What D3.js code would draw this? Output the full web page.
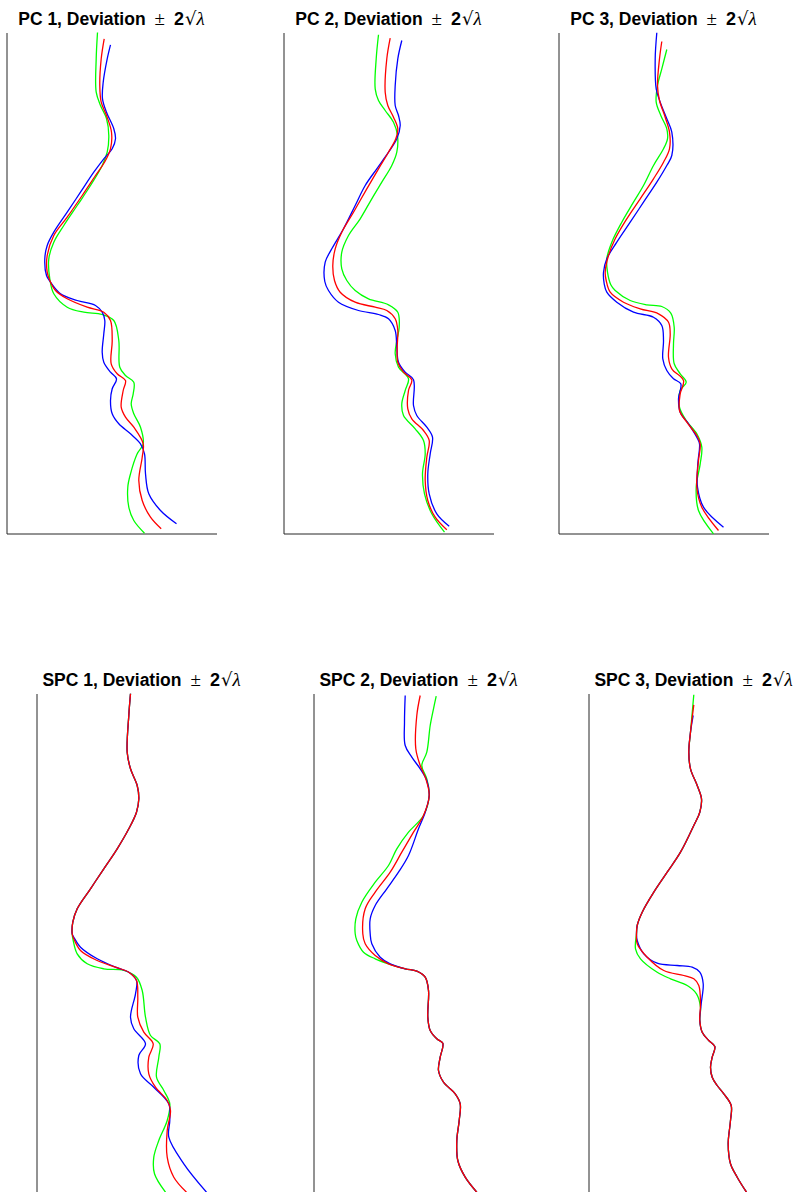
<!DOCTYPE html>
<html>
<head>
<meta charset="utf-8">
<script src="https://cdn.jsdelivr.net/npm/d3@7"></script>
<style>
  html, body { margin: 0; padding: 0; background: #fff; }
  svg { display: block; }
</style>
</head>
<body>
<svg id="chart" width="799" height="1192"></svg>
<script>
// Shape modes: mean shape (red), mean + 2√λ (green), mean − 2√λ (blue).
// Each point is [horizontal offset, position along the shape].

const panelTitles = ["PC 1", "PC 2", "PC 3", "SPC 1", "SPC 2", "SPC 3"];

// ---- PC 1 ----
const pc1Green = [[91,0],[89.7,26.3],[89.7,59.7],[94,73],[100,86],[102.3,103],[100.7,119.7],[95.7,133],[84,153],[70.7,173],[57.3,193],[47.3,209.7],[42.3,226.3],[43.3,246.3],[47.3,261.3],[60.7,274.7],[77.3,279.7],[95.7,282],[107.3,288],[112.3,308],[113.3,334.7],[119,343],[127.3,349.7],[126.7,361.3],[124.7,371.3],[127.3,381.3],[134,394.7],[136.7,411.3],[130.7,421.3],[124,441.3],[121.3,454.7],[122.3,474.7],[127.3,488],[138,500.7]];
const pc1Red = [[97.7,6.3],[94.7,26.3],[93.3,53],[94.7,69.7],[100,83],[105,99.7],[104,116.3],[98,129.7],[89,143],[75.7,163],[60.7,184.7],[47.3,203],[40.7,223],[40.7,239.7],[43.3,248],[49,258],[60.7,266.3],[80.7,274.7],[97.3,279.7],[104,288],[105.7,308],[104.7,331.3],[110.7,341.3],[119,348],[116.7,358],[114.7,374.7],[119,384.7],[127.3,394.7],[136.7,411.3],[135.7,424.7],[132.3,448],[135.7,468],[144,484.7],[154.7,496.3]];
const pc1Blue = [[104,12.3],[100.7,26.3],[96.7,49.7],[96,66.3],[100,79.7],[107.3,96.3],[109,106.3],[105.7,116.3],[97.3,126.3],[87.3,139.7],[74,159.7],[60.7,179.7],[47.3,199.7],[40.7,213],[38.3,226.3],[40,243],[44,249.7],[54,261.3],[70.7,268],[89,273],[95.7,279.7],[98.3,288],[97.3,301.3],[95.7,319.7],[97.3,329.7],[104,339.7],[110,346.3],[105.7,356.3],[104,368],[105.7,381.3],[112.3,391.3],[124,401.3],[134,411.3],[138,421.3],[139,441.3],[142.3,461.3],[154,478],[170,491.3]];

// ---- PC 2 ----
const pc2Green = [[95,2.3],[92.7,26.3],[91.7,56.3],[95,68],[101.7,78],[110,89.7],[114,103],[113.3,119.7],[108.3,133],[98.3,149.7],[88.3,166.3],[76.7,186.3],[65,203],[58.3,219.7],[58.3,236.3],[63.3,248],[71.7,258],[85,266.3],[105,272.3],[114.3,279.7],[115.7,294.7],[113.3,308],[111.7,321.3],[115,334.7],[125,346.3],[121.7,358],[118.3,371.3],[120,383],[131.7,396.3],[140,408],[141.7,421.3],[139,441.3],[141,461.3],[148.3,481.3],[161,499.7]];
const pc2Red = [[106.7,5.7],[103.3,26.3],[101.7,59.7],[104.3,73],[110,84.7],[114.3,96.3],[112.3,106.3],[105,119.7],[95,136.3],[83.3,156.3],[70,179.7],[58.3,199.7],[51.7,216.3],[49.3,233],[51,248],[56.7,259.7],[71.7,269.7],[91.7,274.7],[103.3,278],[111.7,286.3],[114.3,298],[113.7,314.7],[114.3,329.7],[120,339.7],[128.3,347.3],[125,358],[124.3,376.3],[128.3,386.3],[140,398],[145.7,408],[143.3,424.7],[141.7,448],[144.3,468],[151.7,484.7],[163.3,497.3]];
const pc2Blue = [[118.3,8],[114.3,26.3],[111.7,53],[111.7,73],[115,83],[116.7,93],[113.3,106.3],[105,119.7],[93.3,136.3],[81.7,153],[71.7,173],[60,196.3],[48.3,216.3],[41.7,229.7],[41.3,249],[45,258],[55,269.7],[75,278],[95,282],[105,286.3],[111.7,298],[113.3,314.7],[115,329.7],[121.7,339.7],[130,347.3],[130,373],[133.3,383],[143.3,394.7],[149,404.7],[146.7,421.3],[144.3,441.3],[145.7,461.3],[153.3,481.3],[165.7,493.7]];

// ---- PC 3 ----
const pc3Green = [[108.3,17],[103.3,36.3],[99,53],[97.7,69.7],[102.3,83],[108.3,96.3],[109,106.3],[105,116.3],[95,133],[85,153],[75,169.7],[63.3,189.7],[53.3,209.7],[48.3,226.3],[49,239.7],[52.3,252.3],[56.7,258],[71.7,268],[88.3,272.3],[103.3,274],[112.3,280.7],[115.7,294.7],[115,311.3],[115.7,331.3],[121.7,341.3],[127.7,349.7],[121.7,358],[121,374.7],[127.7,388],[138.3,401.3],[143.3,414.7],[141.7,431.3],[137.7,454.7],[140,478],[155,501.3]];
const pc3Red = [[103.3,9],[101,26.3],[99,53],[101,68],[106.7,84.7],[111,99.7],[111,116.3],[105,129.7],[95,146.3],[81.7,166.3],[68.3,186.3],[56.7,206.3],[50,223],[46.7,239.7],[47.7,248],[51.7,259.7],[65,269.7],[81.7,276.3],[100,281.3],[110,289.7],[111.7,301.3],[110,324.7],[113.3,336.3],[125,348],[121.7,361.3],[121,378],[128.3,389.7],[138.3,403],[141.7,411.3],[140,428],[138.3,454.7],[143.3,474.7],[160,498]];
const pc3Blue = [[98.3,0.3],[96.7,26.3],[97.7,56.3],[101.7,69.7],[108.3,86.3],[113.3,99.7],[113.3,123],[108.3,133],[98.3,149.7],[85,169.7],[71.7,189.7],[58.3,209.7],[48.3,226.3],[45,239.7],[45.7,251.3],[48.3,259.7],[58.3,269.7],[75,279.7],[95,284.7],[103.3,293],[105,308],[104.3,326.3],[108.3,338],[115,346.3],[122.3,351.3],[120,366.3],[121.7,379.7],[130,391.3],[138.3,404.7],[141,411.3],[139.3,431.3],[139,454.7],[145,474.7],[165,494.7]];

// ---- SPC 1 ----
const spc1Head = [[94,0.3],[92.3,22],[90.7,58.7],[94,75.3],[100.7,92],[102.3,105.3],[100,118.7],[92.3,135.3],[80.7,155.3],[67.3,175.3],[54,195.3],[40.7,215.3],[36.3,228.7],[35.7,240.3]];
const spc1Green = spc1Head.concat([[36.7,247],[40.7,260.3],[50.7,270.3],[67.3,275.3],[87.3,277],[100,283.7],[105.7,297],[109,323.7],[114,342],[123.3,350.3],[122.3,363.7],[120,383.7],[127.3,397],[133.3,410.3],[130.7,427],[122.3,447],[117.3,463.7],[118,480.3],[129,498.7]]);
const spc1Red = spc1Head.concat([[36.7,243.7],[44,257],[60.7,267],[79,273.7],[92.3,278.7],[100,287],[101.3,303.7],[101.3,323.7],[107.3,338.7],[116.7,350.3],[112.3,363.7],[112.3,380.3],[119,393.7],[130.7,407],[134,417],[130.7,437],[130.7,463.7],[137.3,483.7],[150,498.7]]);
const spc1Blue = spc1Head.concat([[37.3,243.7],[44,253.7],[60.7,265.3],[79,273.7],[92.3,278.7],[100,287],[99,300.3],[94,323.7],[97.3,335.3],[109,350.3],[102.3,362],[104,380.3],[117.3,393.7],[132.3,410.3],[133.3,427],[132.3,443.7],[147.3,470.3],[170,498.7]]);

// ---- SPC 2 ----
const spc2Tail = [[103.3,277.7],[111.7,283.7],[115,297],[114.3,323.7],[116.7,337],[123.3,345.3],[129.3,349.7],[126.7,363.7],[125,377],[130,388.7],[141.7,400.3],[146.7,410.3],[145.7,427],[143.3,447],[144.3,467],[151.7,483.7],[163.3,498.7]];
const spc2Green = [[122.7,2.7],[120,15.3],[116.7,32],[113.3,58.7],[108.3,72],[113.3,85.3],[115.7,102],[110,122],[95,138.7],[83.3,155.3],[75,172],[61.7,188.7],[48.3,208.7],[42.3,225.3],[41.7,240.3],[43.3,247],[50,258.7],[61.7,265.3],[75,270.3],[91.7,275.3]].concat(spc2Tail);
const spc2Red = [[106.7,2],[103.3,22],[102.3,55.3],[106.7,72],[112.3,85.3],[115.7,102],[110,122],[100,138.7],[88.3,158.7],[76.7,178.7],[61.7,198.7],[51.7,215.3],[49.3,240.3],[51.7,250.3],[61.7,262],[75,270.3],[91.7,275.3]].concat(spc2Tail);
const spc2Blue = [[91.7,2],[91,28.7],[91.7,52],[98.3,63.7],[106.7,75.3],[113.3,87],[115.7,102],[111.7,118.7],[105,135.3],[95,162],[85,178.7],[73.3,195.3],[61.7,212],[56.7,225.3],[56.7,240.3],[58.3,250.3],[66.7,263.7],[76.7,270.3],[91.7,275.3]].concat(spc2Tail);

// ---- SPC 3 ----
const spc3Mid = [[102,38.7],[100.3,58.7],[102,75.3],[108.7,92],[113,105.3],[111.3,118.7],[105.3,132],[92,158.7],[78.7,178.7],[65.3,198.7],[53.7,218.7],[48.7,232],[48,240.3]];
const spc3Tail = [[111.3,327],[113.7,338.7],[120.3,347],[126.3,353],[123.7,363.7],[122,373.7],[123.7,383.7],[128.7,392],[135.3,400.3],[142.7,412],[142,427],[139.7,450.3],[142,470.3],[148.7,483.7],[158,498.7]];
const spc3Green = [[105.3,1.3]].concat(spc3Mid, [[47,255.3],[52,265.3],[68.7,278.7],[82,285.3],[98.7,292],[108,300.3],[112,313.7]], spc3Tail);
const spc3Red = [[105.3,11.3]].concat(spc3Mid, [[48.7,250.3],[58.7,263.7],[75.3,277],[95.3,282],[105.3,285.3],[110.3,292],[112,310.3]], spc3Tail);
const spc3Blue = [[104.7,22]].concat(spc3Mid, [[48.7,247],[55.3,260.3],[68.7,269.7],[88.7,272],[103.7,273.7],[111.3,278.7],[114.7,290.3],[112.7,310.3]], spc3Tail);

// ---- layout ----
const panelW = 210, panelH = 501;
const xDomain = [0, 210], yDomain = [0, 501];
const layout = [
  { left: 6.5,   top: 32.5,  bottomAxis: true },
  { left: 283.5, top: 32.5,  bottomAxis: true },
  { left: 558.5, top: 32.5,  bottomAxis: true },
  { left: 36.5,  top: 693.5, bottomAxis: false },
  { left: 313.5, top: 693.5, bottomAxis: false },
  { left: 588.5, top: 693.5, bottomAxis: false }
];
const series = [
  [pc1Green, pc1Blue, pc1Red],
  [pc2Green, pc2Blue, pc2Red],
  [pc3Green, pc3Blue, pc3Red],
  [spc1Green, spc1Blue, spc1Red],
  [spc2Green, spc2Blue, spc2Red],
  [spc3Green, spc3Blue, spc3Red]
];
const colors = ["#00ff00", "#0000ff", "#ff0000"];

const svg = d3.select("#chart");

panelTitles.forEach((name, i) => {
  const L = layout[i];
  const x = d3.scaleLinear().domain(xDomain).range([L.left, L.left + panelW]);
  const y = d3.scaleLinear().domain(yDomain).range([L.top, L.top + panelH]);
  const g = svg.append("g");

  // axes: plain lines without ticks
  g.append("g")
    .attr("transform", `translate(${L.left},0)`)
    .call(d3.axisLeft(y).tickValues([]).tickSizeOuter(0))
    .select(".domain").attr("stroke", "#262626");
  if (L.bottomAxis) {
    g.append("g")
      .attr("transform", `translate(0,${L.top + panelH})`)
      .call(d3.axisBottom(x).tickValues([]).tickSizeOuter(0))
      .select(".domain").attr("stroke", "#262626");
  }

  const line = d3.line()
    .x(d => x(d[0]))
    .y(d => y(d[1]))
    .curve(d3.curveCatmullRom.alpha(0.5));

  g.selectAll("path.mode")
    .data(series[i])
    .join("path")
    .attr("class", "mode")
    .attr("d", line)
    .attr("fill", "none")
    .attr("stroke", (d, k) => colors[k])
    .attr("stroke-width", 1.3)
    .attr("stroke-linejoin", "round");

  // title: bold label followed by the math term ± 2√λ
  const t = g.append("text")
    .attr("x", L.left + panelW / 2)
    .attr("y", L.top - 7.5)
    .attr("text-anchor", "middle")
    .attr("font-family", "Liberation Sans, Arial, sans-serif")
    .attr("font-size", 17.5)
    .attr("fill", "#000");
  t.append("tspan").attr("font-weight", "bold").text(name + ", Deviation");
  t.append("tspan").attr("dx", 9).attr("font-family", "Liberation Serif, serif").attr("font-size", 19).text("±");
  t.append("tspan").attr("dx", 9).attr("font-weight", "bold").attr("font-size", 18).text("2");
  t.append("tspan").attr("dx", 1).attr("font-family", "DejaVu Sans, sans-serif").attr("font-size", 18).text("√");
  t.append("tspan").attr("font-family", "Liberation Serif, serif").attr("font-style", "italic").attr("font-size", 19).text("λ");
});
</script>
</body>
</html>
